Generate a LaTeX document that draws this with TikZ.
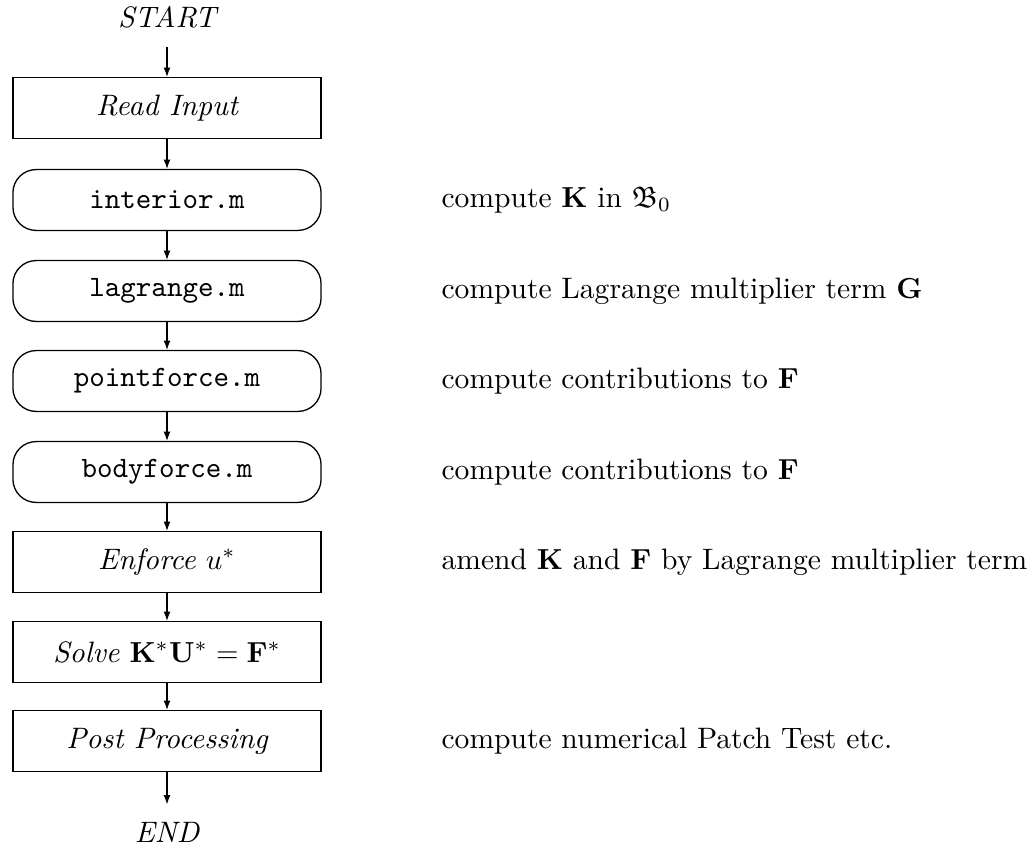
\documentclass[tikz,border=0pt]{standalone}
\usepackage{amsmath,amssymb}
\usetikzlibrary{arrows.meta}
\begin{document}
\begin{tikzpicture}[x=0.345pt,y=-0.345pt,
  every node/.style={font=\fontsize{10.2}{12}\selectfont},
  procbox/.style={draw,line width=0.45pt,minimum width=106.3pt,minimum height=21pt,inner sep=0pt},
  routine/.style={procbox,rounded corners=8pt,font=\fontsize{10.2}{12}\selectfont\ttfamily},
  note/.style={anchor=west,inner sep=0pt},
  flow/.style={-{Latex[length=3.2pt,width=2.4pt]},line width=0.45pt}
]
\useasboundingbox (0,0) rectangle (1033,849);

% main flow
\node (start) at (167,17) {\itshape START};
\node[procbox] (read)  at (167,108) {\itshape Read Input};
\node[routine] (inter) at (167,200) {interior.m};
\node[routine] (lagr)  at (167,291) {lagrange.m};
\node[routine] (pforce) at (167,381) {pointforce.m};
\node[routine] (bforce) at (167,472) {bodyforce.m};
\node[procbox] (enf)   at (167,562) {\textit{Enforce} $u^*$};
\node[procbox] (solve) at (167,652) {\textit{Solve} $\mathbf{K}^*\mathbf{U}^* = \mathbf{F}^*$};
\node[procbox] (post)  at (167,741) {\itshape Post Processing};
\node (end) at (167,832) {\itshape END};

% connectors
\draw[flow,shorten <=3pt] (start) -- (read);
\draw[flow] (read) -- (inter);
\draw[flow] (inter) -- (lagr);
\draw[flow] (lagr) -- (pforce);
\draw[flow] (pforce) -- (bforce);
\draw[flow] (bforce) -- (enf);
\draw[flow] (enf) -- (solve);
\draw[flow] (solve) -- (post);
\draw[flow,shorten >=2.5pt] (post) -- (end);

% remarks
\node[note] (n1) at (441,200) {compute $\mathbf{K}$ in $\mathfrak{B}_0$};
\node[note] (n2) at (441,291) {compute Lagrange multiplier term $\mathbf{G}$};
\node[note] (n3) at (441,381) {compute contributions to $\mathbf{F}$};
\node[note] (n4) at (441,472) {compute contributions to $\mathbf{F}$};
\node[note] (n5) at (441,562) {amend $\mathbf{K}$ and $\mathbf{F}$ by Lagrange multiplier term};
\node[note] (n6) at (441,741) {compute numerical Patch Test etc.};
\end{tikzpicture}
\end{document}
